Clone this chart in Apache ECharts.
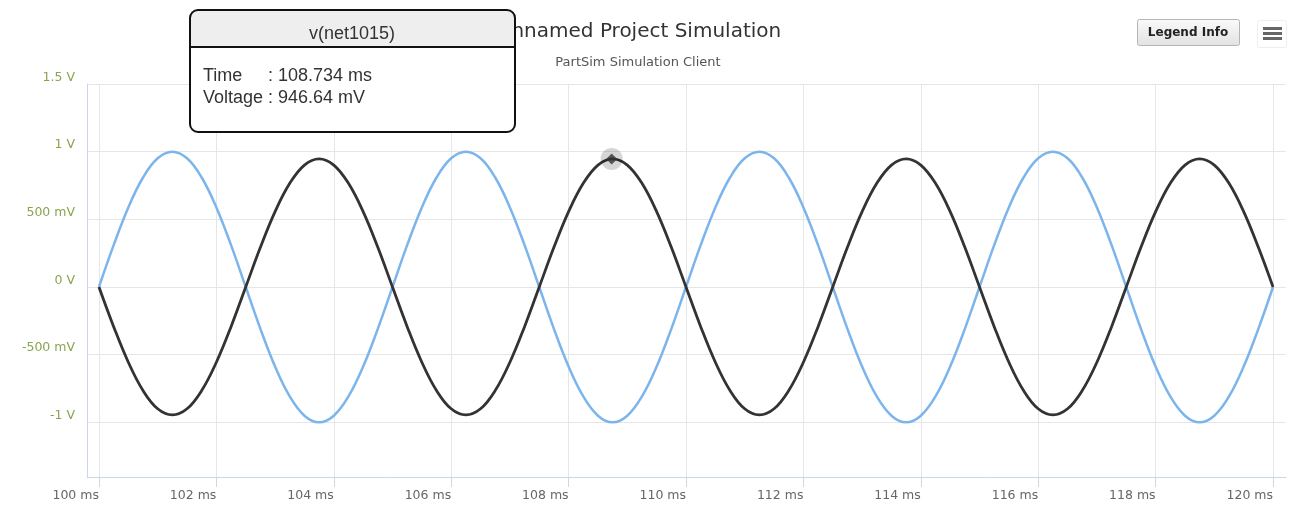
<!DOCTYPE html>
<html><head><meta charset="utf-8">
<script src="https://cdn.jsdelivr.net/npm/echarts@6/dist/echarts.min.js"></script>
<style>html,body{margin:0;padding:0;background:#fff}#c{width:1291px;height:508px}</style>
</head><body><div id="c"></div>
<script>
// Time samples (ms)
const times = [100,100.25,100.5,100.75,101,101.25,101.5,101.75,102,102.25,102.5,102.75,103,103.25,103.5,103.75,104,104.25,104.5,104.75,105,105.25,105.5,105.75,106,106.25,106.5,106.75,107,107.25,107.5,107.75,108,108.25,108.5,108.75,109,109.25,109.5,109.75,110,110.25,110.5,110.75,111,111.25,111.5,111.75,112,112.25,112.5,112.75,113,113.25,113.5,113.75,114,114.25,114.5,114.75,115,115.25,115.5,115.75,116,116.25,116.5,116.75,117,117.25,117.5,117.75,118,118.25,118.5,118.75,119,119.25,119.5,119.75,120];
// Blue trace (V)
const vIn = [0,0.309,0.588,0.809,0.951,1,0.951,0.809,0.588,0.309,0,-0.309,-0.588,-0.809,-0.951,-1,-0.951,-0.809,-0.588,-0.309,
  0,0.309,0.588,0.809,0.951,1,0.951,0.809,0.588,0.309,0,-0.309,-0.588,-0.809,-0.951,-1,-0.951,-0.809,-0.588,-0.309,
  0,0.309,0.588,0.809,0.951,1,0.951,0.809,0.588,0.309,0,-0.309,-0.588,-0.809,-0.951,-1,-0.951,-0.809,-0.588,-0.309,
  0,0.309,0.588,0.809,0.951,1,0.951,0.809,0.588,0.309,0,-0.309,-0.588,-0.809,-0.951,-1,-0.951,-0.809,-0.588,-0.309,0];
// Dark trace v(net1015) (V)
const vNet1015 = [0,-0.293,-0.556,-0.765,-0.9,-0.945,-0.9,-0.765,-0.556,-0.293,0,0.293,0.557,0.766,0.901,0.947,0.901,0.766,0.557,0.293,
  0,-0.293,-0.556,-0.765,-0.9,-0.945,-0.9,-0.765,-0.556,-0.293,0,0.293,0.557,0.766,0.901,0.947,0.901,0.766,0.557,0.293,
  0,-0.293,-0.556,-0.765,-0.9,-0.945,-0.9,-0.765,-0.556,-0.293,0,0.293,0.557,0.766,0.901,0.947,0.901,0.766,0.557,0.293,
  0,-0.293,-0.556,-0.765,-0.9,-0.945,-0.9,-0.765,-0.556,-0.293,0,0.293,0.557,0.766,0.901,0.947,0.901,0.766,0.557,0.293,0];
const xTicks = [100,102,104,106,108,110,112,114,116,118,120];
const yTicks = [-1,-0.5,0,0.5,1,1.5];
const hoverTime = 108.734;
const hoverVolt = 0.94664;
const hoverName = 'v(net1015)';
const titleText = 'Unnamed Project Simulation';
const subtitleText = 'PartSim Simulation Client';

const F = '"DejaVu Sans", Verdana, sans-serif';
const chart = echarts.init(document.getElementById('c'));
function vFmt(v){
  if (v === 0) return '0 V';
  if (Math.abs(v) >= 1) return v + ' V';
  return Math.round(v*1000) + ' mV';
}
chart.setOption({
  animation:false,
  backgroundColor:'#fff',
  title:[
    {text:titleText, left:634, textAlign:'center', top:17, textStyle:{fontFamily:F, fontSize:20, fontWeight:'normal', color:'#333'}},
    {text:subtitleText, left:633, textAlign:'center', top:51, textStyle:{fontFamily:F, fontSize:13, fontWeight:'normal', color:'#555'}}
  ],
  grid:{left:87, right:5, top:84, bottom:31, containLabel:false, outerBoundsMode:'none'},
  xAxis:{
    type:'value', min:99.796, max:120.221,
    axisLine:{show:true, onZero:false, lineStyle:{color:'#ccd6eb', width:1}},
    axisTick:{show:true, customValues:xTicks, length:10, lineStyle:{color:'#ccd6eb'}},
    splitLine:{show:true, lineStyle:{color:'#e3e6ec', width:1}},
    axisLabel:{customValues:xTicks, formatter:v=>v+' ms', color:'#666', fontFamily:F, fontSize:12.5, margin:12, align:'right', hideOverlap:false}
  },
  yAxis:{
    type:'value', min:-1.404, max:1.5,
    axisLine:{show:true, lineStyle:{color:'#ccd6eb', width:1}},
    axisTick:{show:false, customValues:yTicks},
    splitLine:{show:true, lineStyle:{color:'#e6e6e6', width:1}},
    axisLabel:{customValues:yTicks, formatter:vFmt, color:'#89a54e', fontFamily:F, fontSize:12.5, margin:12, verticalAlign:'bottom'}
  },
  series:[
    {name:'v(in)', type:'line', data:times.map((t,i)=>[t,vIn[i]]), smooth:0.4, showSymbol:false, lineStyle:{color:'#7cb5ec', width:2.5}, itemStyle:{color:'#7cb5ec'}, z:2},
    {name:hoverName, type:'line', data:times.map((t,i)=>[t,vNet1015[i]]), smooth:0.4, showSymbol:false, lineStyle:{color:'#333333', width:2.8}, itemStyle:{color:'#333'}, z:3},
    {name:'halo', type:'scatter', data:[[hoverTime,hoverVolt]], symbol:'circle', symbolSize:22, itemStyle:{color:'rgba(0,0,0,0.2)'}, z:4, silent:true},
    {name:'marker', type:'scatter', data:[[hoverTime,hoverVolt]], symbol:'diamond', symbolSize:11, itemStyle:{color:'#333'}, z:5, silent:true}
  ],
  graphic:[
    // Legend Info button
    {type:'rect', z:50, shape:{x:1137.5,y:19.5,width:102,height:26,r:2},
     style:{fill:new echarts.graphic.LinearGradient(0,0,0,1,[{offset:0,color:'#fafafa'},{offset:1,color:'#e2e2e2'}]), stroke:'#b5b5b5', lineWidth:1}},
    {type:'text', z:51, x:1188, y:32.5, style:{text:'Legend Info', fill:'#222', font:'bold 12px "DejaVu Sans", sans-serif', textAlign:'center', textVerticalAlign:'middle'}},
    // Menu icon
    {type:'rect', z:50, shape:{x:1257.5,y:20.5,width:29,height:27,r:2}, style:{fill:'#fff', stroke:'#eeeeee', lineWidth:1}},
    {type:'line', z:51, shape:{x1:1263,y1:28.5,x2:1282,y2:28.5}, style:{stroke:'#666', lineWidth:3}},
    {type:'line', z:51, shape:{x1:1263,y1:33.5,x2:1282,y2:33.5}, style:{stroke:'#666', lineWidth:3}},
    {type:'line', z:51, shape:{x1:1263,y1:38.5,x2:1282,y2:38.5}, style:{stroke:'#666', lineWidth:3}},
    // Tooltip
    {type:'group', z:100, children:[
      {type:'rect', z:100, shape:{x:190,y:10,width:325,height:122,r:8}, style:{fill:'#fff', stroke:'none'}},
      {type:'rect', z:101, shape:{x:190,y:10,width:325,height:37,r:[8,8,0,0]}, style:{fill:'#eeeeee', stroke:'none'}},
      {type:'line', z:102, shape:{x1:190,y1:47,x2:515,y2:47}, style:{stroke:'#111', lineWidth:2}},
      {type:'rect', z:103, shape:{x:190,y:10,width:325,height:122,r:8}, style:{fill:'none', stroke:'#111', lineWidth:2}},
      {type:'text', z:104, x:352, y:34, style:{text:hoverName, fill:'#333', font:'18px "Liberation Sans", Arial, sans-serif', textAlign:'center', textVerticalAlign:'middle'}},
      {type:'text', z:104, x:203, y:76, style:{text:'Time', fill:'#333', font:'18px "Liberation Sans", Arial, sans-serif', textVerticalAlign:'middle'}},
      {type:'text', z:104, x:268, y:76, style:{text:': ' + hoverTime.toFixed(3) + ' ms', fill:'#333', font:'18px "Liberation Sans", Arial, sans-serif', textVerticalAlign:'middle'}},
      {type:'text', z:104, x:203, y:98, style:{text:'Voltage', fill:'#333', font:'18px "Liberation Sans", Arial, sans-serif', textVerticalAlign:'middle'}},
      {type:'text', z:104, x:268, y:98, style:{text:': ' + (hoverVolt*1000).toFixed(2) + ' mV', fill:'#333', font:'18px "Liberation Sans", Arial, sans-serif', textVerticalAlign:'middle'}}
    ]}
  ]
});
</script></body></html>
